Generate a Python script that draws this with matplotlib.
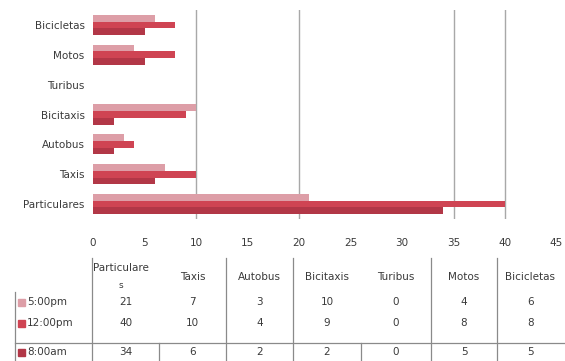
import numpy as np
import matplotlib
matplotlib.use("Agg")
import matplotlib.pyplot as plt

# categories bottom -> top on the chart, same order as table columns
categories = ["Particulares", "Taxis", "Autobus", "Bicitaxis", "Turibus", "Motos", "Bicicletas"]
header_labels = ["Particulare\ns", "Taxis", "Autobus", "Bicitaxis", "Turibus", "Motos", "Bicicletas"]

series_names = ["5:00pm", "12:00pm", "8:00am"]
pm5 = [21, 7, 3, 10, 0, 4, 6]
pm12 = [40, 10, 4, 9, 0, 8, 8]
am8 = [34, 6, 2, 2, 0, 5, 5]

ticks = [0, 5, 10, 15, 20, 25, 30, 35, 40, 45]
grid_at = [10, 20, 35, 40]  # the only gridlines that survive in the scan

colors = {"5:00pm": "#dd9ea7", "12:00pm": "#cf4453", "8:00am": "#b23747"}
txt = "#3a3a3a"

W, H = 565, 361
fig = plt.figure(figsize=(W / 100, H / 100), dpi=100)
plt.rcParams['font.family'] = ['DejaVu Sans']

# ---- bar chart ----
ax = fig.add_axes([93 / W, 1 - 219 / H, (556.5 - 93) / W, (219 - 10) / H])
y = np.arange(len(categories))
bh = 0.225
vals = {"5:00pm": pm5, "12:00pm": pm12, "8:00am": am8}
offs = {"8:00am": -bh, "12:00pm": 0.0, "5:00pm": bh}
for name in ["8:00am", "12:00pm", "5:00pm"]:
    ax.barh(y + offs[name], vals[name], height=bh, color=colors[name], zorder=3)

ax.set_xlim(0, 45)
ax.set_ylim(-0.5, len(categories) - 0.5)
for g in grid_at:
    ax.axvline(g, color="#a8a8a8", lw=1.0, zorder=1)
ax.set_xticks(ticks)
ax.set_xticklabels([str(t) for t in ticks], fontsize=7.5, color=txt)
ax.set_yticks(y)
ax.set_yticklabels(categories, fontsize=7.5, color=txt)
ax.tick_params(length=0, pad=6)
ax.tick_params(axis="x", pad=14)
for s in ax.spines.values():
    s.set_visible(False)

# ---- data table below ----
tax = fig.add_axes([0, 0, 1, 1])
tax.set_xlim(0, W)
tax.set_ylim(H, 0)
tax.axis("off")

col_edges = [92, 159, 226, 293, 361, 431, 497, 564]
lc = "#8a8a8a"
# vertical lines
for xe in [92, 226, 293, 431, 497]:
    tax.plot([xe, xe], [258, H], color=lc, lw=0.9)
for xe in [159, 361]:
    tax.plot([xe, xe], [343, H], color=lc, lw=0.9)
tax.plot([15, 15], [292, H], color=lc, lw=0.9)
tax.plot([15, 564], [343, 343], color=lc, lw=0.9)

centers = [(col_edges[i] + col_edges[i + 1]) / 2 for i in range(len(categories))]
for cx, lab in zip(centers, header_labels):
    if "\n" in lab:
        a, b = lab.split("\n")
        tax.text(cx - 5, 268, a, ha="center", va="center", fontsize=7.5, color=txt)
        tax.text(cx - 5, 285, b, ha="center", va="center", fontsize=6.5, color=txt)
    else:
        tax.text(cx, 277, lab, ha="center", va="center", fontsize=7.5, color=txt)

row_y = {"5:00pm": 302, "12:00pm": 323, "8:00am": 352}
for name in series_names:
    ry = row_y[name]
    tax.add_patch(plt.Rectangle((18, ry - 3.5), 7, 7, color=colors[name]))
    tax.text(27, ry, name, ha="left", va="center", fontsize=7.5, color=txt)
    for cx, v in zip(centers, vals[name]):
        tax.text(cx, ry, str(v), ha="center", va="center", fontsize=7.5, color=txt)

fig.savefig("out.png", dpi=100)
